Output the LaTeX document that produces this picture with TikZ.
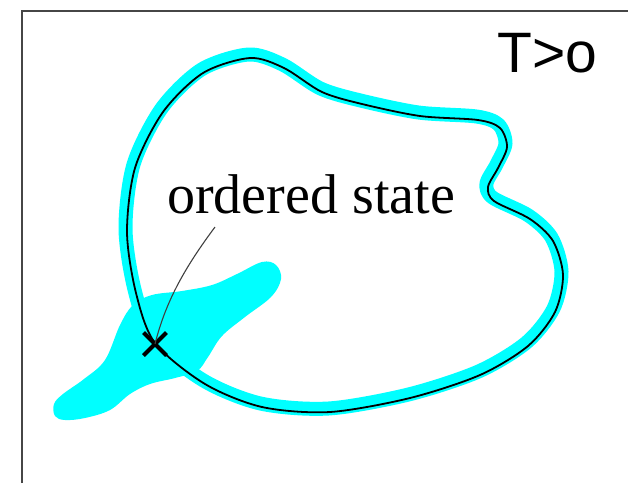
\documentclass[tikz,border=0pt]{standalone}
\usepackage{fontspec}
\setmainfont{Liberation Serif}
\newfontfamily\labsans{Liberation Sans}
\usetikzlibrary{shapes.misc}
\definecolor{aqua}{RGB}{0,255,255}
\definecolor{framegray}{RGB}{70,70,70}
\tikzset{
  band/.style={draw=aqua, line width=14pt, line join=round},
  loopline/.style={draw=black, line width=1.8pt},
  blob/.style={fill=aqua, draw=none},
  leader/.style={draw=black!75, line width=1.1pt},
  xmark/.style={cross out, draw=black, line width=4pt, minimum size=19pt, inner sep=0pt},
  frameline/.style={draw=framegray, line width=1.6pt}
}
\def\looppts{(155,343) (136,293) (127,232) (135,168) (163,112) (203,73)
 (250,58) (284,68) (322,92) (362,104) (420,116) (478,120) (500,128)
 (507,147) (498,168) (488,187) (494,201) (530,219) (553,241) (563,275)
 (555,312) (528,346) (480,375) (410,398) (330,412) (262,407) (205,384)}
\begin{document}
\begin{tikzpicture}[x=1pt,y=-1pt]
\useasboundingbox (0,0) rectangle (628,483);
% frame
\draw[frameline] (22,483) -- (22,11) -- (628,11);
% blob
\fill[blob] plot[smooth cycle, tension=0.6] coordinates {
 (55,416) (54,404) (63,394) (84,379) (105,360) (120,325) (133,305)
 (152,295) (182,291) (212,285) (237,274) (262,262) (276,265) (281,279)
 (271,297) (245,317) (222,336) (208,357) (197,371) (175,378) (150,384)
 (130,394) (110,410) (85,418) (65,420)};
% loop: cyan band shifted up-left, then black line
\begin{scope}[shift={(-1.5,-3.5)}]
\draw[band] plot[smooth cycle] coordinates {\looppts};
\end{scope}
\draw[loopline] plot[smooth cycle] coordinates {\looppts};
% labels
\node[anchor=base west, inner sep=0pt, font=\fontsize{56}{60}\selectfont] (ordered) at (167,213) {ordered state};
\node[anchor=base west, inner sep=0pt, font=\labsans\fontsize{57}{60}\selectfont] (temp) at (497,72) {T>o};
% X mark and leader
\node[xmark] (xm) at (155,344) {};
\coordinate (lead) at (215,227);
\draw[leader] (lead) .. controls (186,266) and (166,300) .. (xm.center);
\end{tikzpicture}
\end{document}
